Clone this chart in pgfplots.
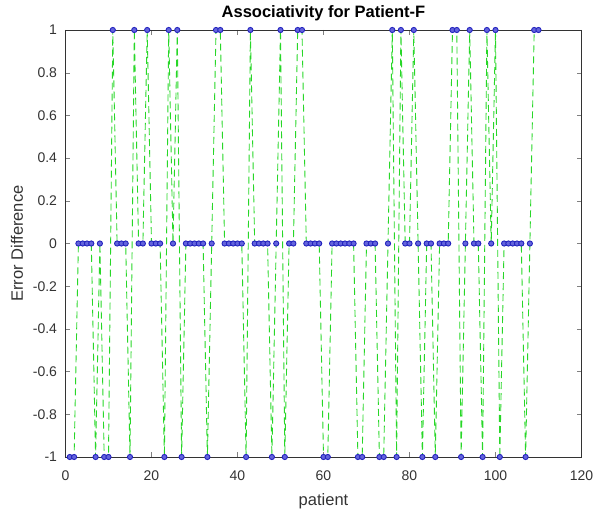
\documentclass[border=0pt]{standalone}
\usepackage{pgfplots}
\pgfplotsset{compat=1.18}
\usepackage{fontspec}
\setmainfont{Liberation Sans}
\definecolor{lgreen}{RGB}{40,215,40}
\definecolor{mblue}{RGB}{35,35,190}
\definecolor{mfill}{RGB}{100,100,220}
\begin{document}
\begin{tikzpicture}[x=1pt,y=1pt]
\useasboundingbox (0,0) rectangle (598,517);
\begin{axis}[
  at={(65.5pt,60pt)}, anchor=south west,
  scale only axis, width=516pt, height=427pt,
  xmin=0, xmax=120, ymin=-1, ymax=1,
  xtick={0,20,...,120}, ytick={-1,-0.8,-0.6,-0.4,-0.2,0,0.2,0.4,0.6,0.8,1},
  yticklabels={-1,-0.8,-0.6,-0.4,-0.2,0,0.2,0.4,0.6,0.8,1},
  tick align=inside, tick pos=both,
  major tick length=5pt,
  /pgf/number format/assume math mode=true,
  tick label style={font=\fontsize{14}{16}\selectfont, color=black!80},
  xticklabel style={anchor=base, yshift=-24pt},
  yticklabel style={anchor=east, xshift=-5pt},
  title={\textbf{Associativity for Patient-F}},
  title style={font=\fontsize{16.5}{19}\selectfont, at={(axis description cs:0.5,1)}, anchor=base, yshift=6pt},
  xlabel={patient}, ylabel={Error Difference},
  every axis x label/.style={at={(axis description cs:0.5,0)}, anchor=base, yshift=-49pt, font=\fontsize{16.5}{19}\selectfont, color=black!80},
  every axis y label/.style={at={(axis description cs:-0.094,0.5)}, rotate=90, anchor=center, font=\fontsize{16.5}{19}\selectfont, color=black!80},
  axis line style={black!80},
  clip=false,
]
\addplot[color=lgreen, line width=0.9pt, dash pattern=on 7pt off 4pt,
  mark=*, mark size=2.6pt, mark options={solid, draw=mblue, fill=mfill, line width=0.9pt}]
coordinates {
(1,-1)(2,-1)(3,0)(4,0)(5,0)(6,0)(7,-1)(8,0)(9,-1)(10,-1)
(11,1)(12,0)(13,0)(14,0)(15,-1)(16,1)(17,0)(18,0)(19,1)(20,0)
(21,0)(22,0)(23,-1)(24,1)(25,0)(26,1)(27,-1)(28,0)(29,0)(30,0)
(31,0)(32,0)(33,-1)(34,0)(35,1)(36,1)(37,0)(38,0)(39,0)(40,0)
(41,0)(42,-1)(43,1)(44,0)(45,0)(46,0)(47,0)(48,-1)(49,0)(50,1)
(51,-1)(52,0)(53,0)(54,1)(55,1)(56,0)(57,0)(58,0)(59,0)(60,-1)
(61,-1)(62,0)(63,0)(64,0)(65,0)(66,0)(67,0)(68,-1)(69,-1)(70,0)
(71,0)(72,0)(73,-1)(74,-1)(75,0)(76,1)(77,-1)(78,1)(79,0)(80,0)
(81,1)(82,0)(83,-1)(84,0)(85,0)(86,-1)(87,0)(88,0)(89,0)(90,1)
(91,1)(92,-1)(93,0)(94,1)(95,0)(96,0)(97,-1)(98,1)(99,0)(100,1)
(101,-1)(102,0)(103,0)(104,0)(105,0)(106,0)(107,-1)(108,0)(109,1)(110,1)
};
\end{axis}
\end{tikzpicture}
\end{document}
